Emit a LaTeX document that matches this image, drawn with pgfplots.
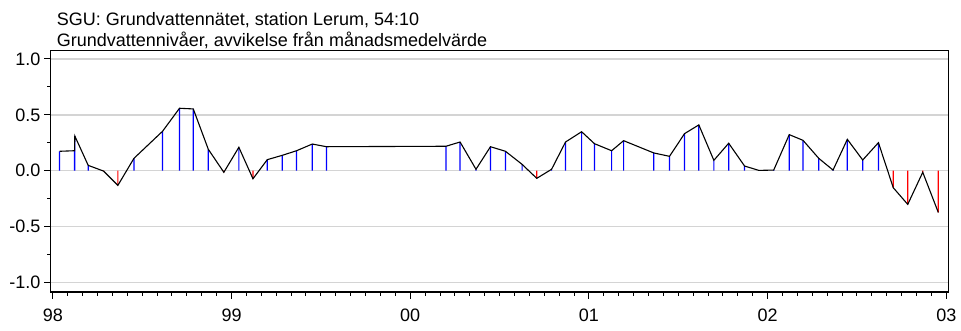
\documentclass[border=0pt]{standalone}
\usepackage{pgfplots}
\pgfplotsset{compat=1.18}
\usepackage{fontspec}
\setmainfont{Liberation Sans}
\definecolor{gridgray}{RGB}{212,212,212}
\definecolor{stemblue}{RGB}{0,0,255}
\definecolor{stemred}{RGB}{255,0,0}
\begin{document}
\begin{tikzpicture}
\useasboundingbox (0,0) rectangle (961pt,330pt);
\begin{axis}[
  at={(50.5pt,38pt)}, anchor=south west,
  scale only axis, width=897.8pt, height=241.3pt,
  xmin=1997.987, xmax=2003.011, ymin=-1.085, ymax=1.074,
  xtick={1998,1999,2000,2001,2002,2003},
  xticklabels={98,99,00,01,02,03},
  minor x tick num=11,
  ytick={-1,-0.5,0,0.5,1},
  yticklabels={-1.0,-0.5,0.0,0.5,1.0},
  minor y tick num=1,
  tick align=outside, xtick pos=bottom, ytick pos=left,
  major tick length=6.5pt, minor tick length=3.5pt,
  tick style={black, line width=1pt},
  ymajorgrids, major grid style={gridgray, line width=1.4pt},
  axis line style={black, line width=1.2pt},
  tick label style={font=\fontsize{18}{20}\selectfont},
  xticklabel style={yshift=-7pt},
  clip=true,
]
\addplot[ybar, bar width=1.2pt, bar shift=0pt, fill=stemblue, draw=none] coordinates {
(1998.0375,0.174) (1998.1215,0.179) (1998.123,0.311) (1998.198,0.048)
(1998.454,0.111) (1998.614,0.353) (1998.709,0.559) (1998.786,0.553)
(1998.870,0.192) (1999.041,0.210) (1999.200,0.099) (1999.284,0.138)
(1999.364,0.179) (1999.452,0.239) (1999.531,0.215)
(2000.200,0.219) (2000.279,0.257) (2000.368,0.013) (2000.449,0.215)
(2000.533,0.174) (2000.626,0.057) (2000.791,0.013) (2000.869,0.257)
(2000.959,0.349) (2001.031,0.242) (2001.127,0.179) (2001.194,0.269)
(2001.363,0.159) (2001.451,0.129) (2001.535,0.332) (2001.615,0.410)
(2001.699,0.093) (2001.782,0.246) (2001.871,0.042) (2001.951,0.003)
(2002.034,0.006) (2002.121,0.323) (2002.198,0.272) (2002.286,0.111)
(2002.366,0.006) (2002.446,0.281) (2002.532,0.096) (2002.620,0.251)
};
\addplot[ybar, bar width=1.2pt, bar shift=0pt, fill=stemred, draw=none] coordinates {
(1998.284,-0.003) (1998.364,-0.131) (1998.957,-0.014) (1999.120,-0.072)
(2000.708,-0.068) (2002.703,-0.152) (2002.784,-0.301) (2002.868,-0.014)
(2002.955,-0.373)
};
\addplot[black, line width=1.1pt, no markers] coordinates {
(1998.0375,0.174) (1998.1215,0.179) (1998.123,0.311) (1998.198,0.048)
(1998.284,-0.003) (1998.364,-0.131) (1998.454,0.111) (1998.614,0.353)
(1998.709,0.559) (1998.786,0.553) (1998.870,0.192) (1998.957,-0.014)
(1999.041,0.210) (1999.120,-0.072) (1999.200,0.099) (1999.284,0.138)
(1999.364,0.179) (1999.452,0.239) (1999.531,0.215)
(2000.200,0.219) (2000.279,0.257) (2000.368,0.013) (2000.449,0.215)
(2000.533,0.174) (2000.626,0.057) (2000.708,-0.068) (2000.791,0.013)
(2000.869,0.257) (2000.959,0.349) (2001.031,0.242) (2001.127,0.179)
(2001.194,0.269) (2001.363,0.159) (2001.451,0.129) (2001.535,0.332)
(2001.615,0.410) (2001.699,0.093) (2001.782,0.246) (2001.871,0.042)
(2001.951,0.003) (2002.034,0.006) (2002.121,0.323) (2002.198,0.272)
(2002.286,0.111) (2002.366,0.006) (2002.446,0.281) (2002.532,0.096)
(2002.620,0.251) (2002.703,-0.152) (2002.784,-0.301) (2002.868,-0.014)
(2002.955,-0.373)
};
\end{axis}
\node[anchor=base west, inner sep=0pt, font=\fontsize{18}{20}\selectfont] at (56.7pt,304.3pt) {SGU: Grundvattennätet, station Lerum, 54:10};
\node[anchor=base west, inner sep=0pt, font=\fontsize{18}{20}\selectfont] at (56.7pt,283.3pt) {Grundvattennivåer, avvikelse från månadsmedelvärde};
\end{tikzpicture}
\end{document}
